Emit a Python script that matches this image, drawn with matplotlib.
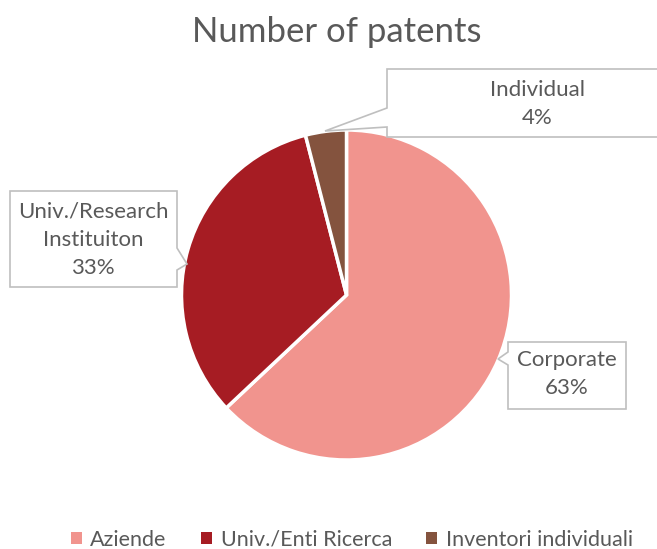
import matplotlib.pyplot as plt
from matplotlib.patches import Polygon, Patch

# dati
categories = ["Aziende", "Univ./Enti Ricerca", "Inventori individuali"]
label_names = ["Corporate", "Univ./Research\nInstituiton", "Individual"]
shares = [63, 33, 4]
colors = ["#F1948E", "#A61C23", "#84533E"]

W, H = 657, 549
plt.rcParams['font.family'] = ['Lato', 'DejaVu Sans']
gray = "#595959"
edge = "#BFBFBF"


def py(y):
    # pixel y (dall'alto) -> coordinate dati
    return H - y


fig = plt.figure(figsize=(W / 100, H / 100), dpi=100)
ax = fig.add_axes([0, 0, 1, 1])
ax.set_xlim(0, W)
ax.set_ylim(0, H)
ax.axis("off")

ax.pie(shares, colors=colors, startangle=90, counterclock=False,
       center=(346.5, py(295)), radius=165,
       wedgeprops=dict(edgecolor="white", linewidth=2.5))
ax.set_xlim(0, W)
ax.set_ylim(0, H)
ax.set_aspect("equal")

# callout (box + coda)
boxes = [
    [(508, 342), (626, 342), (626, 409), (508, 409), (508, 365), (498, 359), (508, 352)],
    [(10, 191), (177, 191), (177, 248), (187, 264), (177, 270), (177, 287), (10, 287)],
    [(387, 69), (720, 69), (720, 137), (387, 137), (387, 127), (325, 131), (387, 108)],
]
text_pos = [(567, 374), (93, 240), (537, 104)]

for pts, (tx, ty), name, v in zip(boxes, text_pos, label_names, shares):
    poly = Polygon([(x, py(y)) for x, y in pts], closed=True, facecolor="white",
                   edgecolor=edge, linewidth=1.2, zorder=5)
    ax.add_patch(poly)
    ax.text(tx, py(ty), f"{name}\n{v}%", ha="center", va="center",
            fontsize=16, color=gray, zorder=6, linespacing=1.5)

ax.text(337, py(32), "Number of patents", ha="center", va="center",
        fontsize=25, color=gray)

handles = [Patch(facecolor=c, edgecolor="none") for c in colors]
ax.legend(handles, categories, loc="center", bbox_to_anchor=(352 / W, 1 - 540 / H),
          ncol=3, frameon=False, fontsize=15.5, handlelength=0.5, handleheight=0.5,
          handletextpad=0.4, columnspacing=1.6, labelcolor=gray)

fig.savefig("out.png", dpi=100)
